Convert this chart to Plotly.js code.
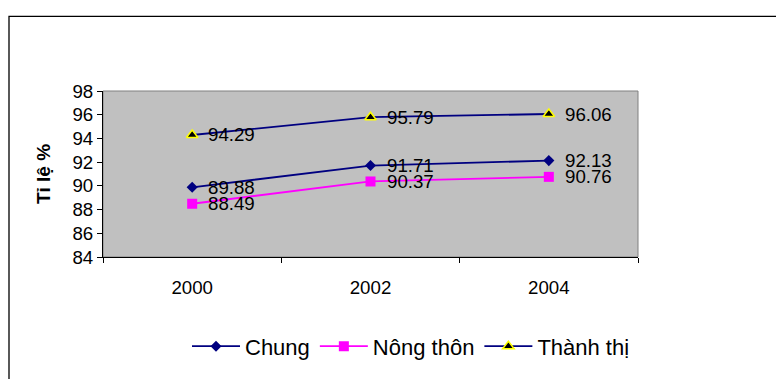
<!DOCTYPE html>
<html>
<head>
<meta charset="utf-8">
<script src="https://cdn.plot.ly/plotly-3.0.1.min.js"></script>
<style>
  html, body { margin: 0; padding: 0; background: #ffffff; }
  #chart { width: 776px; height: 379px; }
</style>
</head>
<body>
<div id="chart"></div>
<script>
// Years on the category axis
const years = ['2000', '2002', '2004'];

// Rates (%) per area
const chung = [89.88, 91.71, 92.13];
const nongThon = [88.49, 90.37, 90.76];
const thanhThi = [94.29, 95.79, 96.06];

// Y axis ticks
const yTicks = [84, 86, 88, 90, 92, 94, 96, 98];

const seriesNames = ['Chung', 'Nông thôn', 'Thành thị'];

const FONT = '"Liberation Sans", Arial, sans-serif';

// Plot area in pixels (left, right, top, bottom)
const W = 776, H = 379;
const L = 103, R = 638, T = 91, B = 260;
const px = v => (v - L) / (R - L);
const py = v => (B - v) / (B - T);

const traces = [
  {
    x: years, y: chung, name: seriesNames[0], type: 'scatter', mode: 'lines+markers',
    line: { color: '#000080', width: 1.8 },
    marker: { symbol: 'diamond', size: 8.5, color: '#000080' }
  },
  {
    x: years, y: nongThon, name: seriesNames[1], type: 'scatter', mode: 'lines+markers',
    line: { color: '#FF00FF', width: 1.8 },
    marker: { symbol: 'square', size: 10, color: '#FF00FF' }
  },
  {
    x: years, y: thanhThi, name: seriesNames[2], type: 'scatter', mode: 'lines+markers',
    line: { color: '#000080', width: 1.8 },
    marker: { symbol: 'triangle-up', size: 10, color: '#000000', line: { color: '#FFFF00', width: 1.5 } }
  }
];

// Value labels to the right of each point (category index on x)
const annotations = [];
[chung, nongThon, thanhThi].forEach(series => {
  series.forEach((v, i) => {
    annotations.push({
      x: i, y: v, xref: 'x', yref: 'y',
      text: v.toFixed(2), showarrow: false,
      xanchor: 'left', yanchor: 'middle', xshift: 14,
      font: { family: FONT, size: 18.7, color: '#000000' }
    });
  });
});

const layout = {
  width: W, height: H,
  margin: { l: L, r: W - R, t: T, b: H - B, pad: 0 },
  paper_bgcolor: '#ffffff',
  plot_bgcolor: '#C0C0C0',
  showlegend: true,
  font: { family: FONT, color: '#000000' },
  xaxis: {
    type: 'category',
    range: [-0.5, 2.5],
    showline: true, linecolor: '#000000', linewidth: 1,
    ticks: 'outside', tickson: 'boundaries', ticklen: 5, tickcolor: '#000000', tickwidth: 1,
    ticklabelstandoff: 14,
    showgrid: false, zeroline: false,
    tickfont: { family: FONT, size: 18.7, color: '#000000' },
    fixedrange: true
  },
  yaxis: {
    range: [84, 98],
    tickvals: yTicks,
    ticktext: yTicks.map(String),
    showline: true, linecolor: '#000000', linewidth: 1,
    ticks: 'outside', ticklen: 5, tickcolor: '#000000', tickwidth: 1,
    showgrid: false, zeroline: false,
    tickfont: { family: FONT, size: 18.7, color: '#000000' },
    title: { text: 'Tỉ lệ %', font: { family: FONT, size: 19, color: '#000000', weight: 'bold' }, standoff: 16 },
    fixedrange: true
  },
  legend: {
    orientation: 'h',
    x: px(187), xanchor: 'left',
    y: py(351), yanchor: 'middle',
    itemwidth: 48,
    font: { family: FONT, size: 22, color: '#000000' },
    bgcolor: 'rgba(0,0,0,0)',
    itemclick: false, itemdoubleclick: false
  },
  annotations: annotations,
  shapes: [
    // outer chart frame
    {
      type: 'rect', xref: 'paper', yref: 'paper', layer: 'below',
      x0: px(9), x1: px(W + 30), y0: py(H + 30), y1: py(15),
      line: { color: '#000000', width: 1.3 }, fillcolor: 'rgba(0,0,0,0)'
    },
    // plot area frame
    {
      type: 'rect', xref: 'paper', yref: 'paper', layer: 'below',
      x0: 0, x1: 1, y0: 0, y1: 1,
      line: { color: '#808080', width: 1 }, fillcolor: 'rgba(0,0,0,0)'
    }
  ]
};

Plotly.newPlot('chart', traces, layout, { displayModeBar: false, staticPlot: true });
</script>
</body>
</html>
